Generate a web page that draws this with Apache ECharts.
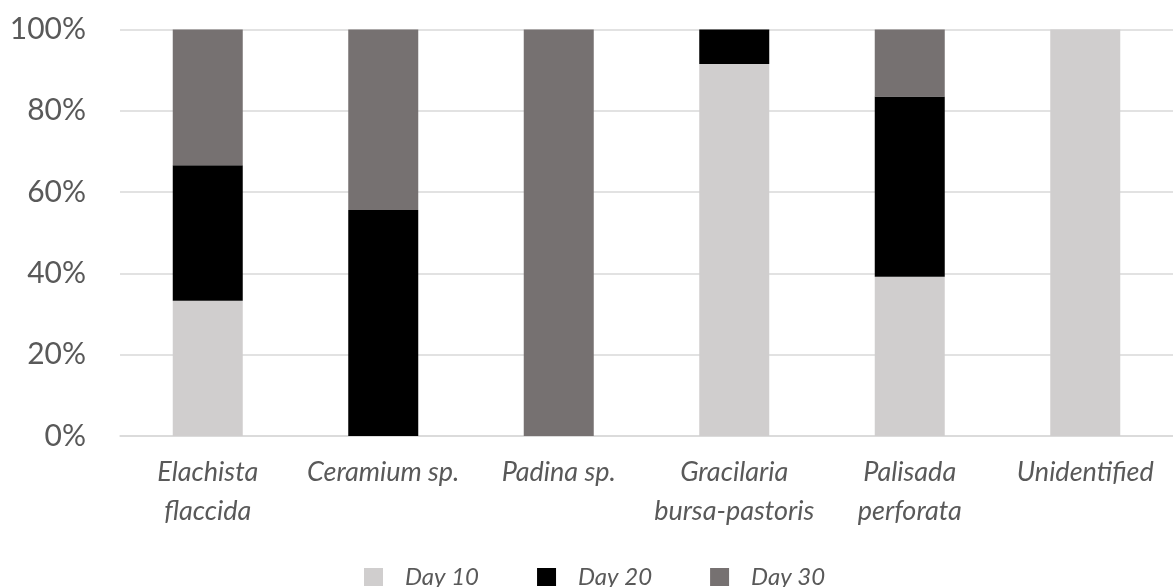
<!DOCTYPE html>
<html>
<head>
<meta charset="utf-8">
<script src="https://cdn.jsdelivr.net/npm/echarts@6/dist/echarts.min.js"></script>
<style>
  html, body { margin: 0; padding: 0; background: #ffffff; }
  #chart { width: 1173px; height: 587px; }
</style>
</head>
<body>
<div id="chart"></div>
<script>
// Species (two-line labels where the name wraps)
const categories = [
  'Elachista\nflaccida',
  'Ceramium sp.',
  'Padina sp.',
  'Gracilaria\nbursa-pastoris',
  'Palisada\nperforata',
  'Unidentified'
];

// Share of each sampling day per species (%)
const day10 = [33.3, 0, 0, 91.5, 39.2, 100];
const day20 = [33.3, 55.6, 0, 8.5, 44.3, 0];
const day30 = [33.4, 44.4, 100, 0, 16.5, 0];

const seriesNames = ['Day 10', 'Day 20', 'Day 30'];
const seriesColors = ['#D0CECE', '#000000', '#767171'];
const yTicks = [0, 20, 40, 60, 80, 100];

const FONT = 'Lato, "Open Sans", sans-serif';
const TEXT = '#595959';

const chart = echarts.init(document.getElementById('chart'), null, { renderer: 'canvas' });

const makeBar = (name, data, color) => ({
  name,
  type: 'bar',
  stack: 'total',
  barWidth: 70,
  data,
  itemStyle: { color },
  emphasis: { disabled: true }
});

chart.setOption({
  animation: false,
  grid: { left: 120, right: -7, top: 29.5, bottom: 151, containLabel: false },
  legend: {
    left: 364,
    top: 565,
    padding: 0,
    itemWidth: 19,
    itemHeight: 18,
    itemGap: 58,
    icon: 'rect',
    selectedMode: false,
    textStyle: {
      fontFamily: FONT,
      fontStyle: 'italic',
      fontSize: 24,
      color: TEXT,
      padding: [0, 0, 0, 17]
    },
    data: seriesNames
  },
  xAxis: {
    type: 'category',
    data: categories,
    axisLine: { show: true, lineStyle: { color: '#D9D9D9', width: 1.5 } },
    axisTick: { show: false },
    axisLabel: {
      interval: 0,
      margin: 17,
      fontFamily: FONT,
      fontStyle: 'italic',
      fontSize: 27,
      lineHeight: 39,
      color: TEXT
    }
  },
  yAxis: {
    type: 'value',
    min: yTicks[0],
    max: yTicks[yTicks.length - 1],
    interval: yTicks[1] - yTicks[0],
    axisLine: { show: false },
    axisTick: { show: false },
    splitLine: { lineStyle: { color: '#D9D9D9', width: 1.5 } },
    axisLabel: {
      margin: 34,
      formatter: '{value}%',
      fontFamily: FONT,
      fontSize: 30,
      color: TEXT
    }
  },
  series: [
    makeBar(seriesNames[0], day10, seriesColors[0]),
    makeBar(seriesNames[1], day20, seriesColors[1]),
    makeBar(seriesNames[2], day30, seriesColors[2])
  ]
});
</script>
</body>
</html>
